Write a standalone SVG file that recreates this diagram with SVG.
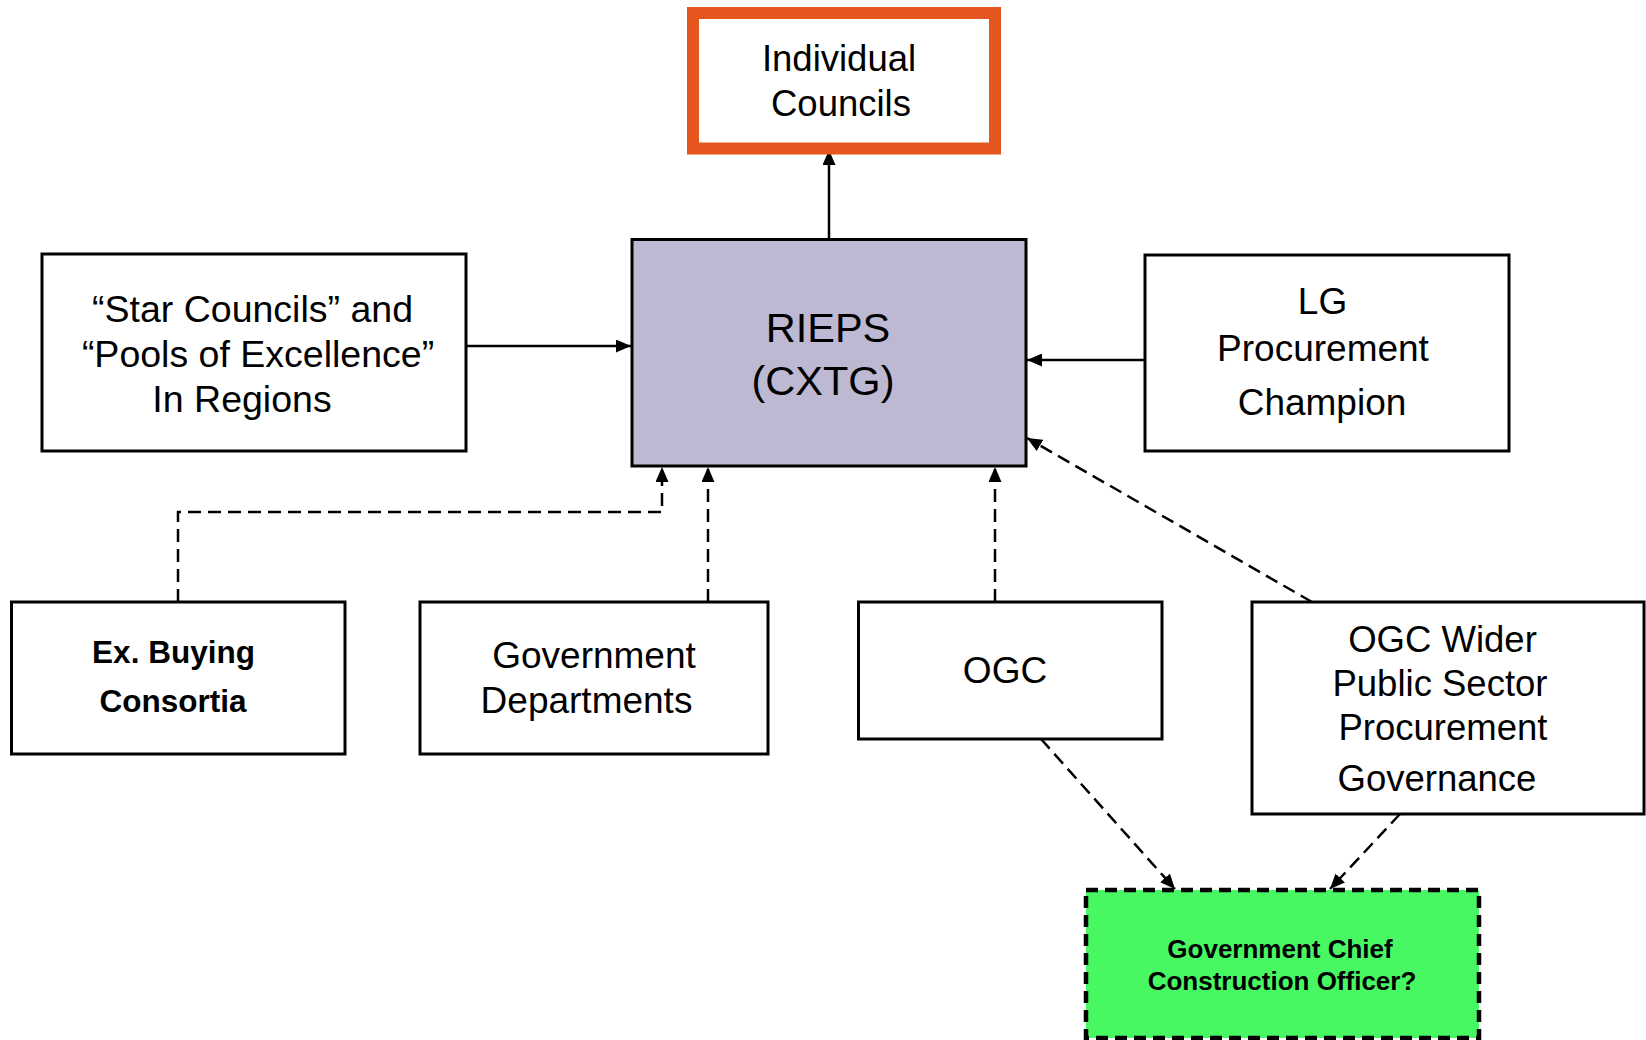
<svg xmlns="http://www.w3.org/2000/svg" width="1646" height="1040" viewBox="0 0 1646 1040">
<style>
.box{fill:#ffffff;stroke:#000000;stroke-width:3}
.t{font-family:"Liberation Sans",Arial,sans-serif;font-size:37px;fill:#000;text-anchor:middle}
.b{font-family:"Liberation Sans",Arial,sans-serif;font-weight:bold;fill:#000;text-anchor:middle}
.c{fill:none;stroke:#000;stroke-width:2.5;marker-end:url(#ah)}
.d{stroke-dasharray:13 7}
</style>
<defs>
<marker id="ah" markerUnits="userSpaceOnUse" markerWidth="15" markerHeight="13" refX="15" refY="6.5" orient="auto">
<path d="M0,0 L15,6.5 L0,13 z" fill="#000"/>
</marker>
</defs>
<rect width="1646" height="1040" fill="#ffffff"/>
<g id="connectors">
<path class="c" d="M829,239 L829,150"/>
<path class="c" d="M466,346 L631,346"/>
<path class="c" d="M1145,360 L1027,360"/>
<path class="c d" d="M178,602 L178,512 L662,512 L662,467"/>
<path class="c d" d="M708,602 L708,467"/>
<path class="c d" d="M995,602 L995,467"/>
<path class="c d" d="M1312,602 L1027,438"/>
<path class="c d" d="M1041,739 L1175,889"/>
<path class="c d" d="M1400,814 L1330,889"/>
</g>
<g id="individual-councils">
<rect x="693" y="13" width="302" height="135.5" fill="#ffffff" stroke="#E5561F" stroke-width="12"/>
<text class="t" style="font-size:36.5px" x="839" y="71">Individual</text>
<text class="t" style="font-size:36.5px" x="841" y="116">Councils</text>
</g>
<g id="rieps">
<rect x="632" y="239.5" width="394" height="226.5" fill="#BDB9D2" stroke="#000" stroke-width="3"/>
<text class="t" style="font-size:41.5px" x="828" y="342">RIEPS</text>
<text class="t" style="font-size:41.5px" x="823" y="395">(CXTG)</text>
</g>
<g id="star-councils">
<rect class="box" x="42" y="254" width="424" height="197"/>
<text class="t" style="font-size:37.5px" x="252.5" y="322">“Star Councils” and</text>
<text class="t" style="font-size:37.5px" x="258" y="367">“Pools of Excellence”</text>
<text class="t" style="font-size:37.5px" x="242" y="412">In Regions</text>
</g>
<g id="lg-procurement-champion">
<rect class="box" x="1145" y="255" width="364" height="196"/>
<text class="t" x="1322.5" y="314">LG</text>
<text class="t" x="1323" y="361">Procurement</text>
<text class="t" x="1322" y="415">Champion</text>
</g>
<g id="ex-buying-consortia">
<rect class="box" x="11.5" y="602" width="333.5" height="152"/>
<text class="b" style="font-size:31.5px" x="173.5" y="663">Ex. Buying</text>
<text class="b" style="font-size:31.5px" x="173" y="712">Consortia</text>
</g>
<g id="government-departments">
<rect class="box" x="420" y="602" width="348" height="152"/>
<text class="t" x="594" y="668">Government</text>
<text class="t" x="586.5" y="713">Departments</text>
</g>
<g id="ogc">
<rect class="box" x="858.5" y="602" width="303.5" height="137"/>
<text class="t" x="1005" y="683">OGC</text>
</g>
<g id="ogc-wider">
<rect class="box" x="1252" y="602" width="392" height="212"/>
<text class="t" style="font-size:36.5px" x="1442.5" y="652">OGC Wider</text>
<text class="t" style="font-size:36.5px" x="1440" y="696">Public Sector</text>
<text class="t" style="font-size:36.5px" x="1443" y="740">Procurement</text>
<text class="t" style="font-size:36.5px" x="1437" y="791">Governance</text>
</g>
<g id="gcco">
<rect x="1086" y="890" width="393" height="148" fill="#47F862" stroke="#000" stroke-width="4.5" stroke-dasharray="12 7"/>
<text class="b" style="font-size:26px" x="1280" y="958">Government Chief</text>
<text class="b" style="font-size:26px" x="1282" y="990">Construction Officer?</text>
</g>
</svg>
